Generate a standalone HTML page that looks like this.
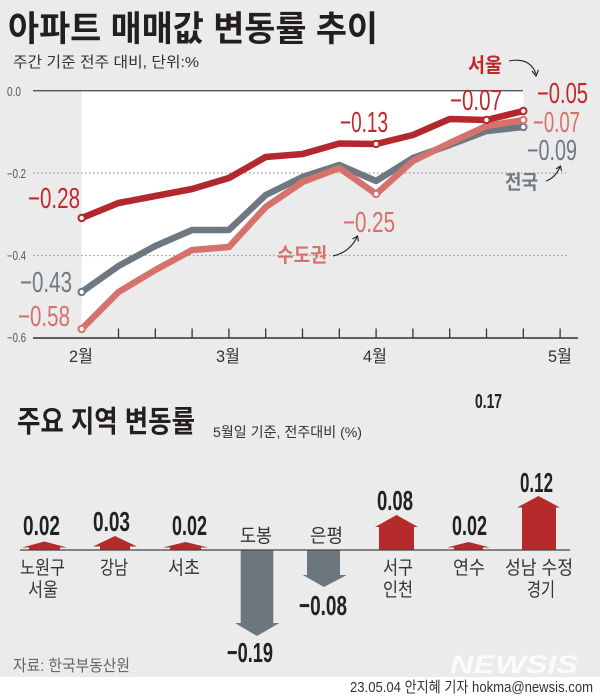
<!DOCTYPE html>
<html><head><meta charset="utf-8">
<style>
html,body{margin:0;padding:0;background:#ebebeb;}
svg{display:block;}
.k{font-family:"Liberation Sans","Noto Sans CJK KR",sans-serif;}
.n{font-family:"Liberation Sans",sans-serif;}
</style></head>
<body>
<svg width="600" height="696" viewBox="0 0 600 696" xmlns="http://www.w3.org/2000/svg">
<rect x="0" y="0" width="600" height="696" fill="#ebebeb"/>
<rect x="0" y="677" width="600" height="19" fill="#ffffff"/>

<!-- Title -->
<text class="k" x="8" y="41" font-size="35" font-weight="700" fill="#231f20" textLength="370" lengthAdjust="spacingAndGlyphs">아파트 매매값 변동률 추이</text>
<text class="k" x="13" y="67" font-size="15" fill="#333" textLength="186" lengthAdjust="spacingAndGlyphs">주간 기준 전주 대비, 단위:%</text>

<!-- white fill area -->
<polygon fill="#ffffff" points="81.7,90.7 523.3,90.7 523.3,127 486.5,131 449.7,145 412.9,161 376.1,194 339.3,168 302.5,182 265.7,207 228.9,247 192.1,250 155.3,270 118.5,292 81.7,329"/>

<!-- grid -->
<line x1="33" y1="90.7" x2="523" y2="90.7" stroke="#555" stroke-width="1.3"/>
<line x1="33" y1="173" x2="566" y2="173" stroke="#9a9a9a" stroke-width="1.2" stroke-dasharray="1.5,2.5"/>
<line x1="33" y1="255.5" x2="568" y2="255.5" stroke="#9a9a9a" stroke-width="1.2" stroke-dasharray="1.5,2.5"/>
<line x1="33" y1="338" x2="578" y2="338" stroke="#333" stroke-width="1.5"/>

<!-- ticks -->
<g stroke="#333" stroke-width="1.3">
<line x1="118.5" y1="328.5" x2="118.5" y2="338"/>
<line x1="155.3" y1="328.5" x2="155.3" y2="338"/>
<line x1="192.1" y1="328.5" x2="192.1" y2="338"/>
<line x1="228.9" y1="328.5" x2="228.9" y2="338"/>
<line x1="265.7" y1="328.5" x2="265.7" y2="338"/>
<line x1="302.5" y1="328.5" x2="302.5" y2="338"/>
<line x1="339.3" y1="328.5" x2="339.3" y2="338"/>
<line x1="376.1" y1="328.5" x2="376.1" y2="338"/>
<line x1="412.9" y1="328.5" x2="412.9" y2="338"/>
<line x1="449.7" y1="328.5" x2="449.7" y2="338"/>
<line x1="486.5" y1="328.5" x2="486.5" y2="338"/>
<line x1="523.3" y1="328.5" x2="523.3" y2="338"/>
<line x1="560.1" y1="328.5" x2="560.1" y2="338"/>
</g>

<!-- y labels -->
<g class="n" font-size="12.5" fill="#555">
<text x="7" y="96" textLength="14" lengthAdjust="spacingAndGlyphs">0.0</text>
<text x="7" y="178" textLength="19" lengthAdjust="spacingAndGlyphs">−0.2</text>
<text x="7" y="260" textLength="19" lengthAdjust="spacingAndGlyphs">−0.4</text>
<text x="7" y="342" textLength="19" lengthAdjust="spacingAndGlyphs">−0.6</text>
</g>

<!-- month labels -->
<g class="k" font-size="17" fill="#333">
<text x="69" y="362" textLength="24" lengthAdjust="spacingAndGlyphs">2월</text>
<text x="216" y="362" textLength="24" lengthAdjust="spacingAndGlyphs">3월</text>
<text x="363" y="362" textLength="24" lengthAdjust="spacingAndGlyphs">4월</text>
<text x="548" y="362" textLength="24" lengthAdjust="spacingAndGlyphs">5월</text>
</g>

<!-- lines -->
<polyline fill="none" stroke="#6d7880" stroke-width="6.5" stroke-linejoin="round" points="81.7,292 118.5,266 155.3,246 192.1,230 228.9,230 265.7,195 302.5,177 339.3,165 376.1,181 412.9,158 449.7,145 486.5,131 523.3,127"/>
<polyline fill="none" stroke="#d6726c" stroke-width="6.5" stroke-linejoin="round" points="81.7,329 118.5,292 155.3,270 192.1,250 228.9,247 265.7,207 302.5,182 339.3,168 376.1,194 412.9,161 449.7,143 486.5,126 523.3,120"/>
<polyline fill="none" stroke="#b3282d" stroke-width="6.5" stroke-linejoin="round" points="81.7,218 118.5,203 155.3,196 192.1,189 228.9,178 265.7,157 302.5,154 339.3,143.5 376.1,144 412.9,135 449.7,119 486.5,120 523.3,111"/>

<!-- markers -->
<g fill="#fff" stroke-width="2">
<circle cx="81.7" cy="292" r="3.2" stroke="#6d7880"/>
<circle cx="523.3" cy="127" r="3.2" stroke="#6d7880"/>
<circle cx="81.7" cy="329" r="3.2" stroke="#d6726c"/>
<circle cx="376.1" cy="194" r="3.2" stroke="#d6726c"/>
<circle cx="523.3" cy="120" r="3.2" stroke="#d6726c"/>
<circle cx="81.7" cy="218" r="3.2" stroke="#b3282d"/>
<circle cx="376.1" cy="144" r="3.2" stroke="#b3282d"/>
<circle cx="486.5" cy="120" r="3.2" stroke="#b3282d"/>
<circle cx="523.3" cy="111" r="3.2" stroke="#b3282d"/>
</g>

<!-- value labels in chart -->
<g class="n" font-size="29">
<text x="28" y="208" fill="#c1272d" textLength="52" lengthAdjust="spacingAndGlyphs">−0.28</text>
<text x="20" y="292" fill="#6f7b83" textLength="52" lengthAdjust="spacingAndGlyphs">−0.43</text>
<text x="18" y="326" fill="#d7706a" textLength="52" lengthAdjust="spacingAndGlyphs">−0.58</text>
<text x="340" y="132" fill="#c1272d" textLength="48" lengthAdjust="spacingAndGlyphs">−0.13</text>
<text x="450" y="110" fill="#c1272d" textLength="52" lengthAdjust="spacingAndGlyphs">−0.07</text>
<text x="537" y="103" fill="#c1272d" textLength="51" lengthAdjust="spacingAndGlyphs">−0.05</text>
<text x="533" y="132" fill="#d7706a" textLength="47" lengthAdjust="spacingAndGlyphs">−0.07</text>
<text x="527" y="160" fill="#6f7b83" textLength="50" lengthAdjust="spacingAndGlyphs">−0.09</text>
<text x="343" y="232" fill="#d7706a" textLength="52" lengthAdjust="spacingAndGlyphs">−0.25</text>
</g>

<!-- series names -->
<g class="k" font-size="20" font-weight="700">
<text x="468" y="72" fill="#c1272d" textLength="34" lengthAdjust="spacingAndGlyphs">서울</text>
<text x="505" y="189" fill="#6f7b83" textLength="33" lengthAdjust="spacingAndGlyphs">전국</text>
<text x="277" y="262" fill="#d7706a" textLength="50" lengthAdjust="spacingAndGlyphs">수도권</text>
</g>

<!-- small curved arrows -->
<g fill="none" stroke="#222" stroke-width="1.1">
<path d="M509,61 Q530,57 536,74"/>
<path d="M532,71 L536,76 L538.5,70"/>
<path d="M546,181 Q555,178 560,167"/>
<path d="M556,169 L560.5,166 L561.5,171"/>
<path d="M333,256 Q350,252 357,237"/>
<path d="M352.5,239 L357.5,236 L358.5,241.5"/>
</g>

<!-- Bar section -->
<text class="k" x="17" y="432" font-size="30" font-weight="700" fill="#231f20" textLength="178" lengthAdjust="spacingAndGlyphs">주요 지역 변동률</text>
<text class="k" x="213" y="437" font-size="14" fill="#333" textLength="149" lengthAdjust="spacingAndGlyphs">5월일 기준, 전주대비 (%)</text>
<text class="n" x="475" y="408" font-size="20" font-weight="700" fill="#222" textLength="27" lengthAdjust="spacingAndGlyphs">0.17</text>

<!-- up arrows -->
<g fill="#b52b2b">
<polygon points="22,547.5 44.5,541.5 67,547.5 60,547.5 60,550 29,550 29,547.5"/>
<polygon points="93,546.5 115,536 137,546.5 130,546.5 130,550 100,550 100,546.5"/>
<polygon points="163,547.5 185.5,542 208,547.5 201,547.5 201,550 170,550 170,547.5"/>
<polygon points="375,527 396.5,515 418,527 414,527 414,550 379,550 379,527"/>
<polygon points="447,547.5 468.5,542 490,547.5 483,547.5 483,550 454,550 454,547.5"/>
<polygon points="517,507.5 538.5,496 560,507.5 556,507.5 556,550 522,550 522,507.5"/>
</g>
<!-- down arrows -->
<g fill="#6c777d">
<polygon points="240.7,550 273.3,550 273.3,623 279.3,623 257,636 235,623 240.7,623"/>
<polygon points="307,550 340,550 340,575 346.7,575 324,587 302.7,575 307,575"/>
</g>

<line x1="20" y1="550" x2="570" y2="550" stroke="#444" stroke-width="1.2"/>

<!-- bar values -->
<g class="n" font-size="28" font-weight="700" fill="#222">
<text x="23" y="535" textLength="37" lengthAdjust="spacingAndGlyphs">0.02</text>
<text x="93" y="531" textLength="37" lengthAdjust="spacingAndGlyphs">0.03</text>
<text x="172" y="535" textLength="35" lengthAdjust="spacingAndGlyphs">0.02</text>
<text x="227" y="662" textLength="46" lengthAdjust="spacingAndGlyphs">−0.19</text>
<text x="299" y="615" textLength="48" lengthAdjust="spacingAndGlyphs">−0.08</text>
<text x="377" y="510" textLength="36" lengthAdjust="spacingAndGlyphs">0.08</text>
<text x="452" y="535" textLength="35" lengthAdjust="spacingAndGlyphs">0.02</text>
<text x="520" y="492" textLength="33" lengthAdjust="spacingAndGlyphs">0.12</text>
</g>

<!-- region labels -->
<g class="k" font-size="19" fill="#333">
<text x="20" y="574" textLength="45" lengthAdjust="spacingAndGlyphs">노원구</text>
<text x="28" y="596" textLength="30" lengthAdjust="spacingAndGlyphs">서울</text>
<text x="100" y="574" textLength="28" lengthAdjust="spacingAndGlyphs">강남</text>
<text x="168" y="574" textLength="32" lengthAdjust="spacingAndGlyphs">서초</text>
<text x="240" y="542" textLength="32" lengthAdjust="spacingAndGlyphs">도봉</text>
<text x="310" y="542" textLength="33" lengthAdjust="spacingAndGlyphs">은평</text>
<text x="383" y="574" textLength="30" lengthAdjust="spacingAndGlyphs">서구</text>
<text x="383" y="596" textLength="30" lengthAdjust="spacingAndGlyphs">인천</text>
<text x="453" y="574" textLength="32" lengthAdjust="spacingAndGlyphs">연수</text>
<text x="505" y="574" textLength="68" lengthAdjust="spacingAndGlyphs">성남 수정</text>
<text x="527" y="596" textLength="28" lengthAdjust="spacingAndGlyphs">경기</text>
</g>

<text class="k" x="13" y="671" font-size="16" fill="#666" textLength="117" lengthAdjust="spacingAndGlyphs">자료: 한국부동산원</text>

<text class="n" x="450" y="673" font-size="25" font-weight="700" font-style="italic" fill="#ffffff" fill-opacity="0.8" textLength="128" lengthAdjust="spacingAndGlyphs">NEWSIS</text>

<text class="k" x="350" y="692" font-size="15" fill="#333" textLength="243" lengthAdjust="spacingAndGlyphs">23.05.04 안지혜 기자 hokma@newsis.com</text>
</svg>
</body></html>
